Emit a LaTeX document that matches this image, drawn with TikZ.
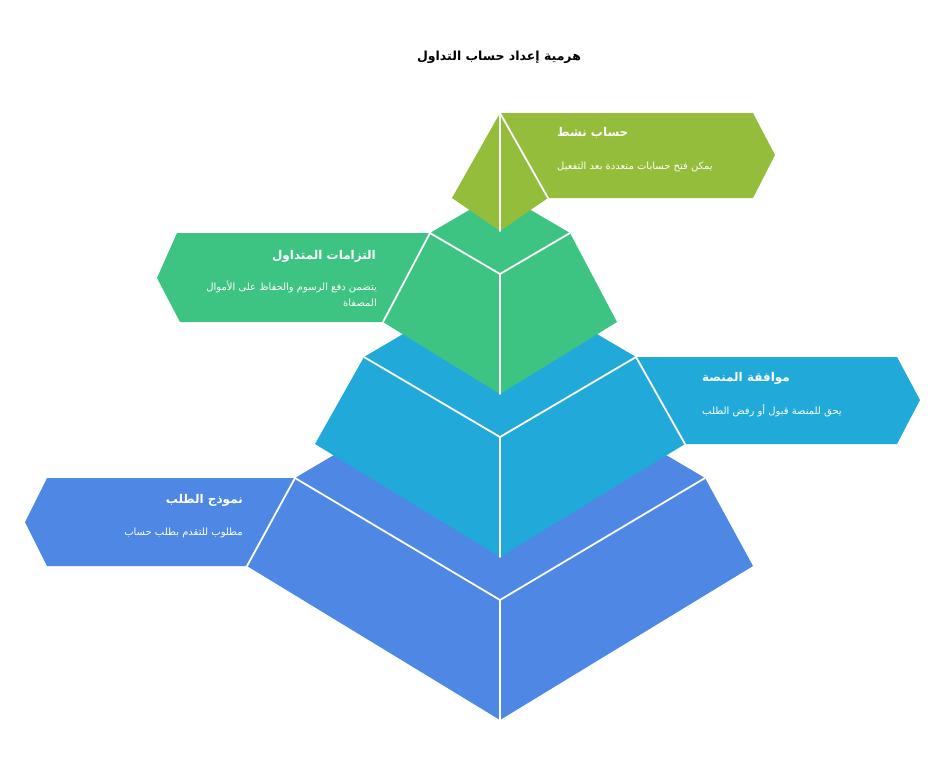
\documentclass[tikz,border=0pt]{standalone}
\usepackage{fontspec}
\TeXXeTstate=1
\newfontfamily\arabicfont[Script=Arabic]{DejaVu Sans}
\definecolor{tierA}{HTML}{94BD3B}
\definecolor{tierB}{HTML}{3DC483}
\definecolor{tierC}{HTML}{21AAD9}
\definecolor{tierD}{HTML}{4E87E4}
\tikzset{
  sepline/.style={draw=white, line width=1.8pt, line cap=round, line join=round},
  ttl/.style={font=\arabicfont\bfseries\fontsize{12}{15}\selectfont, text=white, inner sep=0pt},
  dsc/.style={font=\arabicfont\fontsize{10}{16}\selectfont, text=white, inner sep=0pt},
  mainttl/.style={font=\arabicfont\bfseries\fontsize{12.5}{15}\selectfont, text=black, inner sep=0pt},
}
\begin{document}
\begin{tikzpicture}[x=1pt,y=-1pt]
\useasboundingbox[fill=white] (0,0) rectangle (944,768);

% title
\node[mainttl] (title) at (499,57) {\beginR هرمية إعداد حساب التداول\endR};

% ---- tier 4 (bottom)
\fill[tierD] (295,478) -- (500,357) -- (705,478) -- (753,566) -- (500,720) -- (247,566) -- cycle;
\fill[tierD] (295,478) -- (47,478) -- (25,522) -- (47,566) -- (247,566) -- cycle;
\draw[sepline] (295,478) -- (500,600) -- (705,478);
\draw[sepline] (500,600) -- (500,720);
\draw[sepline] (295,478) -- (247,566);

% ---- tier 3
\fill[tierC] (364,357) -- (500,277) -- (636,357) -- (685,444) -- (500,557) -- (315,444) -- cycle;
\fill[tierC] (636,357) -- (897,357) -- (920,400) -- (897,444) -- (685,444) -- cycle;
\draw[sepline] (364,357) -- (500,437) -- (636,357);
\draw[sepline] (500,437) -- (500,557);
\draw[sepline] (636,357) -- (685,444);

% ---- tier 2
\fill[tierB] (430,233) -- (500,192) -- (570,233) -- (617,322) -- (500,394) -- (383,322) -- cycle;
\fill[tierB] (430,233) -- (177,233) -- (157,278) -- (180,322) -- (383,322) -- cycle;
\draw[sepline] (430,233) -- (500,274) -- (570,233);
\draw[sepline] (500,274) -- (500,394);
\draw[sepline] (430,233) -- (383,322);

% ---- tier 1 (top)
\fill[tierA] (500,113) -- (548,198) -- (500,231) -- (452,198) -- cycle;
\fill[tierA] (500,113) -- (753,113) -- (775,155) -- (753,198) -- (548,198) -- cycle;
\draw[sepline] (500,113) -- (500,231);
\draw[sepline] (500,113) -- (548,198);

% ---- labels
\node[ttl, anchor=west] (t1) at (557,133) {\beginR حساب نشط\endR};
\node[dsc, anchor=west] (d1) at (557,167) {\beginR يمكن فتح حسابات متعددة بعد التفعيل\endR};

\node[ttl, anchor=east] (t2) at (376,256) {\beginR التزامات المتداول\endR};
\node[dsc, anchor=east] (d2a) at (377,287) {\beginR يتضمن دفع الرسوم والحفاظ على الأموال\endR};
\node[dsc, anchor=east] (d2b) at (377,303) {\beginR المصفاة\endR};

\node[ttl, anchor=west] (t3) at (702,378) {\beginR موافقة المنصة\endR};
\node[dsc, anchor=west] (d3) at (702,411) {\beginR يحق للمنصة قبول أو رفض الطلب\endR};

\node[ttl, anchor=east] (t4) at (243,500) {\beginR نموذج الطلب\endR};
\node[dsc, anchor=east] (d4) at (243,533) {\beginR مطلوب للتقدم بطلب حساب\endR};
\end{tikzpicture}
\end{document}
